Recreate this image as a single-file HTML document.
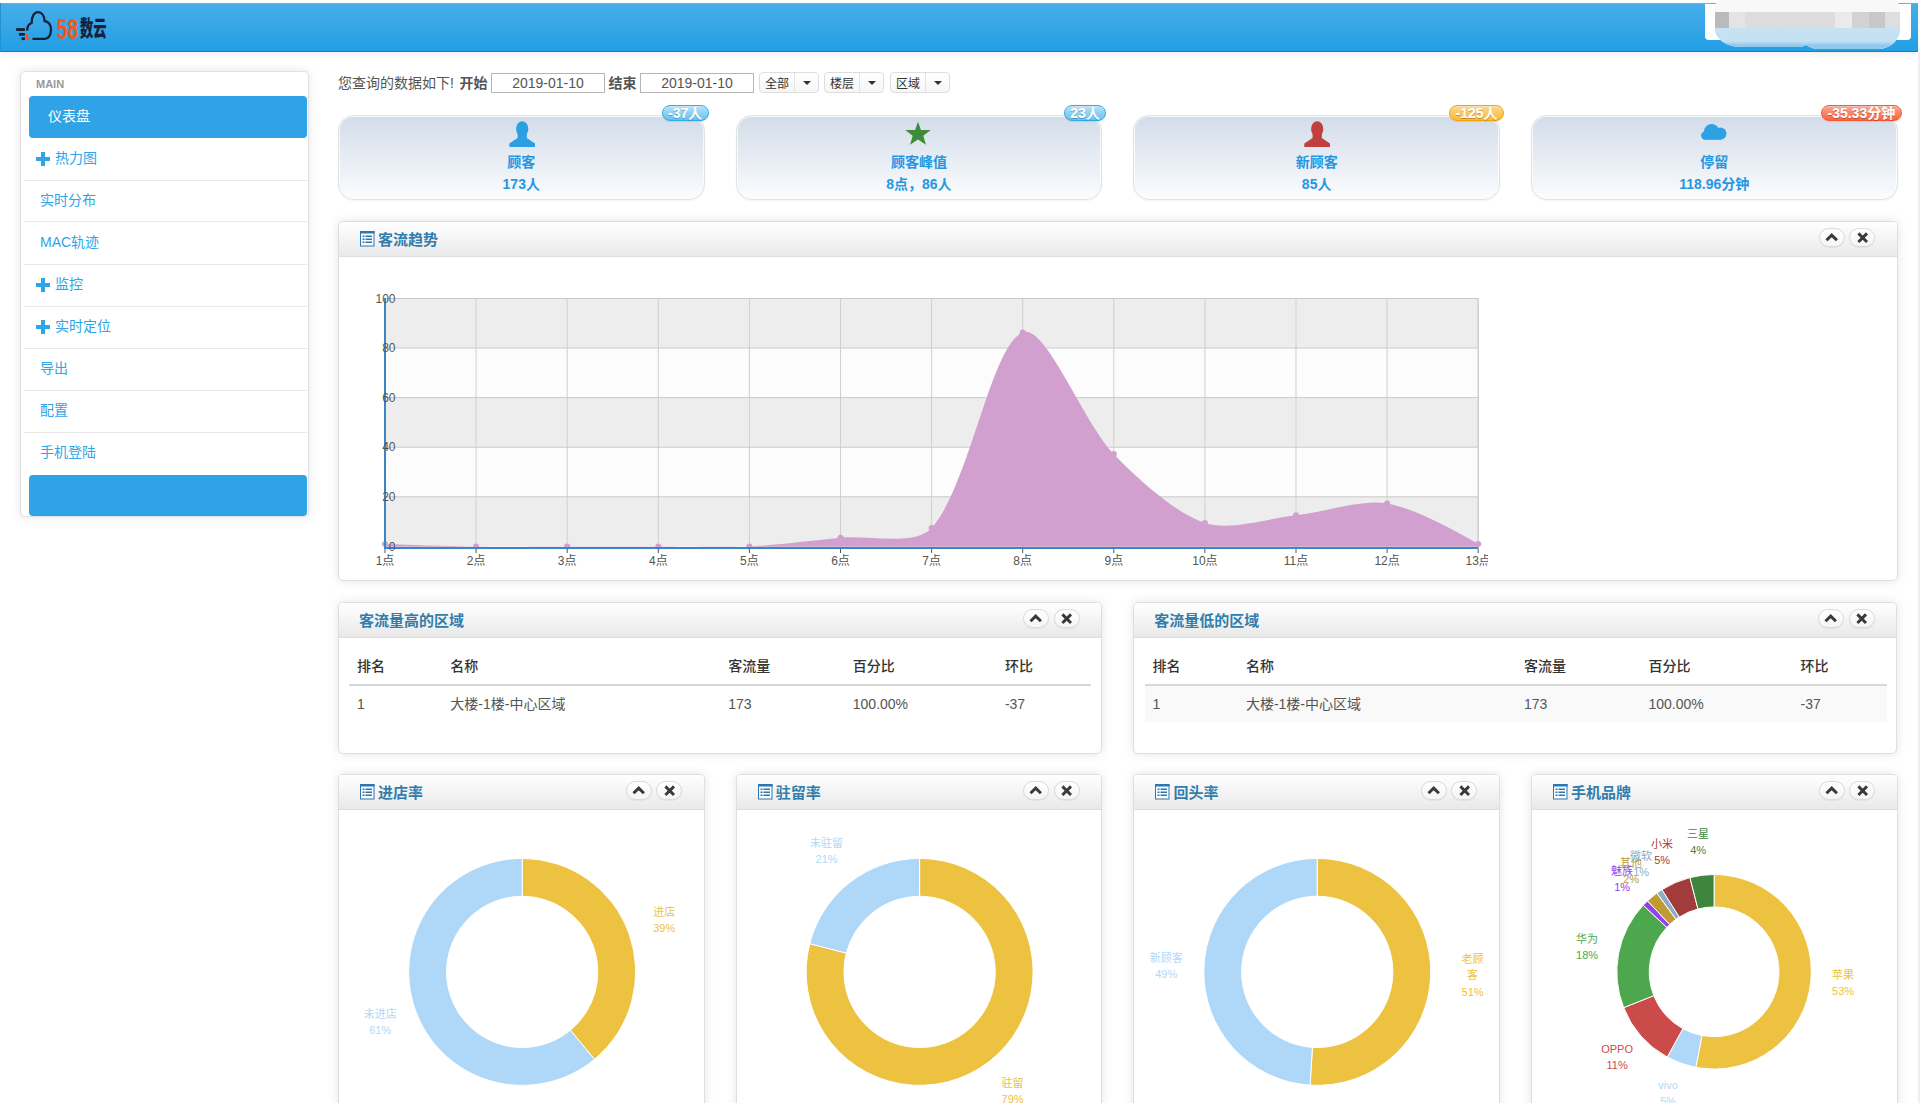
<!DOCTYPE html><html><head><meta charset="utf-8"><title>58数云</title><style>
*{box-sizing:border-box}
html,body{margin:0;padding:0;width:1920px;height:1103px;overflow:hidden;background:#fff}
body{font-family:"Liberation Sans","Noto Sans CJK SC",sans-serif;font-size:14px;color:#555;position:relative}
.a{position:absolute}
.hdr{left:0;top:3px;width:1918px;height:49px;border-top:1px solid #86a8bd;border-bottom:1px solid #0a84cf;
 background:linear-gradient(#46ade9,#36a6e7 50%,#229ee5);box-shadow:0 2px 6px rgba(0,0,0,.08)}
.sb{left:20px;top:71px;width:289px;height:446px;border:1px solid #e0e0e0;border-radius:5px;background:#fff;box-shadow:0 0 8px rgba(180,180,180,.35)}
.sbi{position:absolute;height:41px;line-height:41px;color:#2fa4e7;font-size:14px;white-space:nowrap}
.sep{position:absolute;left:24px;width:283px;height:1px;background:#e8e8e8}
.box{position:absolute;border:1px solid #dedede;border-radius:5px;background:#fff;box-shadow:0 0 10px rgba(189,189,189,.4)}
.bh{position:absolute;left:0;top:0;right:0;height:35px;border-bottom:1px solid #dedede;border-radius:4px 4px 0 0;
 background:linear-gradient(#fff,#e9e9e9)}
.bt{position:absolute;top:0;height:35px;line-height:35px;font-size:15px;font-weight:bold;color:#317eac;white-space:nowrap}
.btn{position:absolute;top:5.5px;width:26px;height:19px;border:1px solid #dadada;border-radius:12px;background:linear-gradient(#fff,#f5f5f5);box-shadow:0 1px 1px rgba(0,0,0,.05)}
.card{position:absolute;top:114.5px;width:366.5px;height:85px;border:1px solid #e2e2e2;border-radius:16px;background:linear-gradient(#d2dce9,#fbfcfe);box-shadow:0 1px 2px rgba(0,0,0,.05),inset 0 0 0 1px rgba(255,255,255,.75)}
.ct{position:absolute;left:0;right:0;text-align:center;font-weight:bold;color:#2597e2;font-size:14px;line-height:22px;white-space:nowrap}
.nt{position:absolute;top:-11px;height:16px;line-height:14px;padding:0 5.3px;border:1px solid #2fabe9;border-radius:10px;color:#fff;white-space:nowrap;
 font-size:14px;font-weight:bold;text-shadow:0 1px rgba(0,0,0,.25);box-shadow:0 1px 1px rgba(0,0,0,.08),inset 0 1px rgba(255,255,255,.3)}
.inp{position:absolute;top:73px;width:114px;height:20px;border:1px solid #b5b5b5;background:#fff;text-align:center;line-height:18px;font-size:14px;color:#555}
.bg{position:absolute;top:72px;width:60px;height:21px;border:1px solid #ddd;border-radius:4px;background:linear-gradient(#fff,#f6f6f6);font-size:12px;color:#333;line-height:19px}
table{border-collapse:collapse;table-layout:fixed;font-size:14px;line-height:20px}
th,td{padding:8px;text-align:left;white-space:nowrap}
th{font-weight:500;color:#333;border-bottom:2px solid #d8d8d8}
td{color:#555}
</style></head><body>

<div class="a hdr"></div>
<div class="a" style="left:0;top:3px;width:1px;height:49px;background:#2191d2"></div>
<svg class="a" style="left:0;top:0" width="120" height="52" viewBox="0 0 120 52">
<path d="M27.3 30.6 C27.0 26.5 29.0 24.0 31.6 23.0 C31.5 16.5 34.2 12.2 38.0 12.2 C41.8 12.2 44.3 16.0 44.6 21.0 C48.5 21.5 51.0 25.0 51.0 29.8 C51.0 35.0 48.5 38.8 45.0 38.8 L32.5 38.8" fill="none" stroke="#16223c" stroke-width="2.3"/>
<g fill="#16223c"><rect x="16.2" y="28.1" width="8.7" height="2.9"/><rect x="18.9" y="33" width="6" height="2.7"/><rect x="21.6" y="37.3" width="3.3" height="2.8"/></g>
<path d="M26 33.9 h2 v3.6 h2.1 v2.6 h-4.1z" fill="#ef5a1c"/>
<text x="56.8" y="39" font-family="Liberation Sans,sans-serif" font-weight="bold" font-size="29" fill="#ef5a1c" transform="translate(56.8 0) scale(0.66 1) translate(-56.8 0)">58</text>
<text x="80" y="36.2" font-family="Noto Sans CJK SC,sans-serif" font-weight="900" font-size="21.5" fill="#16223c" transform="translate(80 0) scale(0.62 1) translate(-80 0)">数云</text>
</svg>
<div class="a" style="left:1705px;top:4px;width:206px;height:36px;background:#fff;border-radius:0 0 4px 4px"></div>
<div class="a" style="left:1715px;top:0;width:95px;height:47px;border-radius:7px 0 12px 26px / 7px 0 8px 18px;background:#f8f8f8;overflow:hidden"><div class="a" style="left:0px;top:12px;width:185px;height:16px;background:linear-gradient(90deg,#bababa 0,#bababa 14px,#e4e4e4 14px,#e4e4e4 30px,#dcdcdc 30px,#dddddd 60px,#dedcdc 120px,#eaeaea 120px,#eaeaea 137px,#d2d2d2 137px,#d2d2d2 154px,#c8c8c8 154px,#c8c8c8 170px,#dedede 170px)"></div><div class="a" style="left:0;top:28px;width:95px;height:24px;background:linear-gradient(#c6e2f3,#c4e0f2 55%,#90c9ee 72%,#90c9ee)"></div></div>
<div class="a" style="left:1804px;top:0;width:96px;height:49px;border-radius:0 8px 22px 14px / 0 8px 20px 9px;background:#f8f8f8;overflow:hidden"><div class="a" style="left:-89px;top:12px;width:185px;height:16px;background:linear-gradient(90deg,#bababa 0,#bababa 14px,#e4e4e4 14px,#e4e4e4 30px,#dcdcdc 30px,#dddddd 60px,#dedcdc 120px,#eaeaea 120px,#eaeaea 137px,#d2d2d2 137px,#d2d2d2 154px,#c8c8c8 154px,#c8c8c8 170px,#dedede 170px)"></div><div class="a" style="left:0;top:28px;width:96px;height:24px;background:linear-gradient(#c6e2f3,#c4e0f2 55%,#90c9ee 72%,#90c9ee)"></div></div>
<div class="a" style="left:1918px;top:52px;width:2px;height:1051px;background:#efefef"></div>
<div class="a sb"></div>
<div class="a" style="left:36px;top:77px;font-size:11px;font-weight:bold;color:#999;line-height:14px">MAIN</div>
<div class="a" style="left:29px;top:96px;width:278px;height:42px;border-radius:4px;background:#2fa3e6"></div>
<div class="sbi" style="top:96px;left:48px;color:#fff">仪表盘</div>
<div class="sep" style="top:180px"></div>
<div class="sep" style="top:221px"></div>
<div class="sep" style="top:264px"></div>
<div class="sep" style="top:306px"></div>
<div class="sep" style="top:348px"></div>
<div class="sep" style="top:390px"></div>
<div class="sep" style="top:432px"></div>
<svg class="a" style="left:36px;top:152px" width="14" height="14" viewBox="0 0 14 14"><path d="M5 0h4v5h5v4H9v5H5V9H0V5h5z" fill="#2fa4e7"/></svg>
<div class="sbi" style="top:138px;left:55px">热力图</div>
<div class="sbi" style="top:180px;left:40px">实时分布</div>
<div class="sbi" style="top:222px;left:40px">MAC轨迹</div>
<svg class="a" style="left:36px;top:278px" width="14" height="14" viewBox="0 0 14 14"><path d="M5 0h4v5h5v4H9v5H5V9H0V5h5z" fill="#2fa4e7"/></svg>
<div class="sbi" style="top:264px;left:55px">监控</div>
<svg class="a" style="left:36px;top:320px" width="14" height="14" viewBox="0 0 14 14"><path d="M5 0h4v5h5v4H9v5H5V9H0V5h5z" fill="#2fa4e7"/></svg>
<div class="sbi" style="top:306px;left:55px">实时定位</div>
<div class="sbi" style="top:348px;left:40px">导出</div>
<div class="sbi" style="top:390px;left:40px">配置</div>
<div class="sbi" style="top:432px;left:40px">手机登陆</div>
<div class="a" style="left:29px;top:475px;width:278px;height:41px;border-radius:4px;background:#2fa3e6"></div>
<div class="a" style="left:338px;top:73px;line-height:20px;white-space:nowrap">您查询的数据如下!</div>
<div class="a" style="left:459.5px;top:73px;line-height:20px;font-weight:bold">开始</div>
<div class="inp" style="left:491px">2019-01-10</div>
<div class="a" style="left:608.5px;top:73px;line-height:20px;font-weight:bold">结束</div>
<div class="inp" style="left:640px">2019-01-10</div>
<div class="bg" style="left:759px"><span class="a" style="left:5px;top:2px">全部</span><div class="a" style="left:34px;top:0;width:1px;height:19px;background:#e4e4e4"></div><div class="a" style="left:43px;top:8px;width:0;height:0;border-left:4px solid transparent;border-right:4px solid transparent;border-top:4px solid #333"></div></div>
<div class="bg" style="left:824px"><span class="a" style="left:5px;top:2px">楼层</span><div class="a" style="left:34px;top:0;width:1px;height:19px;background:#e4e4e4"></div><div class="a" style="left:43px;top:8px;width:0;height:0;border-left:4px solid transparent;border-right:4px solid transparent;border-top:4px solid #333"></div></div>
<div class="bg" style="left:890px"><span class="a" style="left:5px;top:2px">区域</span><div class="a" style="left:34px;top:0;width:1px;height:19px;background:#e4e4e4"></div><div class="a" style="left:43px;top:8px;width:0;height:0;border-left:4px solid transparent;border-right:4px solid transparent;border-top:4px solid #333"></div></div>
<div class="card" style="left:338.0px">
<svg class="a" style="left:169.55px;top:5px" width="27" height="27" viewBox="0 0 27 27"><ellipse cx="13.2" cy="7.9" rx="6.1" ry="7.6" fill="#2a9fe3"/><path d="M8.6 12 H17.8 V16.9 L26 22.4 V26 H0.3 V22.4 L8.6 16.9z" fill="#2a9fe3"/></svg>
<div class="ct" style="top:35px">顾客</div><div class="ct" style="top:57px">173人</div>
<div class="nt" style="right:-5px;border-color:#2fabe9;background:linear-gradient(#b7e2f8,#67c2ef)">-37人</div>
</div>
<div class="card" style="left:735.7px">
<svg class="a" style="left:167.75px;top:5.5px" width="28" height="28" viewBox="0 0 28 28"><path d="M14 0.8 L16.9 8.9 L26.7 8.9 L19.3 14.8 L21.9 23.7 L14 18.6 L6.1 23.7 L8.7 14.8 L1.3 8.9 L11.1 8.9z" fill="#3d8c3a"/></svg>
<div class="ct" style="top:35px">顾客峰值</div><div class="ct" style="top:57px">8点，86人</div>
<div class="nt" style="right:-5px;border-color:#2fabe9;background:linear-gradient(#b7e2f8,#67c2ef)">23人</div>
</div>
<div class="card" style="left:1133.4px">
<svg class="a" style="left:169.55px;top:5px" width="27" height="27" viewBox="0 0 27 27"><ellipse cx="13.2" cy="7.9" rx="6.1" ry="7.6" fill="#c0403f"/><path d="M8.6 12 H17.8 V16.9 L26 22.4 V26 H0.3 V22.4 L8.6 16.9z" fill="#c0403f"/></svg>
<div class="ct" style="top:35px">新顾客</div><div class="ct" style="top:57px">85人</div>
<div class="nt" style="right:-5px;border-color:#f4a506;background:linear-gradient(#fcd98f,#fab73a)">-125人</div>
</div>
<div class="card" style="left:1531.0px">
<svg class="a" style="left:169.25px;top:8.5px" width="26" height="17" viewBox="0 0 26 17"><g fill="#2ea0e4"><circle cx="4.2" cy="11.6" r="4.2"/><circle cx="10.6" cy="7.6" r="7.6"/><circle cx="19.3" cy="9.6" r="6.2"/><rect x="4.2" y="9" width="15.1" height="6.8"/></g></svg>
<div class="ct" style="top:35px">停留</div><div class="ct" style="top:57px">118.96分钟</div>
<div class="nt" style="right:-5px;border-color:#fa5833;background:linear-gradient(#fca58f,#f9643f)">-35.33分钟</div>
</div>
<div class="box" style="left:338.0px;top:221.0px;width:1559.5px;height:360.0px"><div class="bh"><svg class="a" style="left:21px;top:9px" width="15" height="16" viewBox="0 0 15 16"><rect x="0.5" y="0.5" width="13.5" height="14.5" fill="#fff" stroke="#2b77b3"/><rect x="0" y="0" width="14.5" height="2.5" fill="#2b77b3"/><g fill="#2b77b3"><rect x="2.5" y="4.5" width="2" height="1.5"/><rect x="5.5" y="4.5" width="6.5" height="1.5"/><rect x="2.5" y="7.5" width="2" height="1.5"/><rect x="5.5" y="7.5" width="6.5" height="1.5"/><rect x="2.5" y="10.5" width="2" height="1.5"/><rect x="5.5" y="10.5" width="6.5" height="1.5"/></g></svg><div class="bt" style="left:39px">客流趋势</div><div class="btn" style="right:52px"><svg class="a" style="left:5px;top:3.5px" width="14" height="11" viewBox="0 0 14 11"><path d="M1.5 8.3 L6.7 3.2 L11.9 8.3" fill="none" stroke="#3a3a3a" stroke-width="3"/></svg></div><div class="btn" style="right:21.5px"><svg class="a" style="left:6.5px;top:3px" width="12" height="12" viewBox="0 0 12 12"><path d="M1.4 1.4 L10 10 M10 1.4 L1.4 10" fill="none" stroke="#3a3a3a" stroke-width="2.9"/></svg></div></div></div>
<svg class="a" style="left:0;top:0" width="1920" height="600" viewBox="0 0 1920 600">
<rect x="385" y="298.5" width="1093.2" height="49.5" fill="#ededed"/>
<rect x="385" y="348.0" width="1093.2" height="49.6" fill="#fcfcfc"/>
<rect x="385" y="397.6" width="1093.2" height="49.6" fill="#ededed"/>
<rect x="385" y="447.2" width="1093.2" height="49.6" fill="#fcfcfc"/>
<rect x="385" y="496.8" width="1093.2" height="49.7" fill="#ededed"/>
<line x1="385.0" y1="298.5" x2="385.0" y2="547" stroke="#cfcfcf" stroke-width="1"/>
<line x1="476.1" y1="298.5" x2="476.1" y2="547" stroke="#cfcfcf" stroke-width="1"/>
<line x1="567.2" y1="298.5" x2="567.2" y2="547" stroke="#cfcfcf" stroke-width="1"/>
<line x1="658.3" y1="298.5" x2="658.3" y2="547" stroke="#cfcfcf" stroke-width="1"/>
<line x1="749.4" y1="298.5" x2="749.4" y2="547" stroke="#cfcfcf" stroke-width="1"/>
<line x1="840.5" y1="298.5" x2="840.5" y2="547" stroke="#cfcfcf" stroke-width="1"/>
<line x1="931.6" y1="298.5" x2="931.6" y2="547" stroke="#cfcfcf" stroke-width="1"/>
<line x1="1022.7" y1="298.5" x2="1022.7" y2="547" stroke="#cfcfcf" stroke-width="1"/>
<line x1="1113.8" y1="298.5" x2="1113.8" y2="547" stroke="#cfcfcf" stroke-width="1"/>
<line x1="1204.9" y1="298.5" x2="1204.9" y2="547" stroke="#cfcfcf" stroke-width="1"/>
<line x1="1296.0" y1="298.5" x2="1296.0" y2="547" stroke="#cfcfcf" stroke-width="1"/>
<line x1="1387.1" y1="298.5" x2="1387.1" y2="547" stroke="#cfcfcf" stroke-width="1"/>
<line x1="1478.2" y1="298.5" x2="1478.2" y2="547" stroke="#cfcfcf" stroke-width="1"/>
<line x1="385" y1="298.5" x2="1478.2" y2="298.5" stroke="#cacaca" stroke-width="1"/>
<line x1="385" y1="348.0" x2="1478.2" y2="348.0" stroke="#cacaca" stroke-width="1"/>
<line x1="385" y1="397.6" x2="1478.2" y2="397.6" stroke="#cacaca" stroke-width="1"/>
<line x1="385" y1="447.2" x2="1478.2" y2="447.2" stroke="#cacaca" stroke-width="1"/>
<line x1="385" y1="496.8" x2="1478.2" y2="496.8" stroke="#cacaca" stroke-width="1"/>
<line x1="1478.2" y1="298" x2="1478.2" y2="547" stroke="#cacaca"/>
<path d="M385.0 543.9 Q448.8 546.1 476.1 546.5 C503.4 546.9 539.9 546.5 567.2 546.5 C594.5 546.5 631.0 546.5 658.3 546.5 C685.6 546.5 722.1 547.7 749.4 546.4 C776.8 545.1 813.2 540.5 840.5 537.8 C867.8 535.1 915.3 546.5 931.6 528.1 C970.0 484.8 990.6 345.4 1022.7 332.4 C1045.3 323.2 1082.6 421.4 1113.8 454.0 C1137.3 478.5 1174.5 512.8 1204.9 523.0 C1229.2 531.2 1268.7 518.2 1296.0 515.3 C1323.4 512.4 1360.9 499.3 1387.1 503.4 Q1415.5 507.9 1478.2 543.9 L1478.2 546.8 L385.0 546.8 Z" fill="#d2a0ce"/>
<circle cx="385.0" cy="543.9" r="3" fill="#d2a0ce"/>
<circle cx="476.1" cy="546.5" r="3" fill="#d2a0ce"/>
<circle cx="567.2" cy="546.5" r="3" fill="#d2a0ce"/>
<circle cx="658.3" cy="546.5" r="3" fill="#d2a0ce"/>
<circle cx="749.4" cy="546.4" r="3" fill="#d2a0ce"/>
<circle cx="840.5" cy="537.8" r="3" fill="#d2a0ce"/>
<circle cx="931.6" cy="528.1" r="3" fill="#d2a0ce"/>
<circle cx="1022.7" cy="332.4" r="3" fill="#d2a0ce"/>
<circle cx="1113.8" cy="454.0" r="3" fill="#d2a0ce"/>
<circle cx="1204.9" cy="523.0" r="3" fill="#d2a0ce"/>
<circle cx="1296.0" cy="515.3" r="3" fill="#d2a0ce"/>
<circle cx="1387.1" cy="503.4" r="3" fill="#d2a0ce"/>
<circle cx="1478.2" cy="543.9" r="3" fill="#d2a0ce"/>
<line x1="384" y1="548" x2="1478.5" y2="548" stroke="#3a87c8" stroke-width="2"/>
<line x1="385" y1="298" x2="385" y2="549" stroke="#3a87c8" stroke-width="2"/>
<line x1="385.0" y1="549" x2="385.0" y2="553" stroke="#555" stroke-width="1"/>
<line x1="476.1" y1="549" x2="476.1" y2="553" stroke="#555" stroke-width="1"/>
<line x1="567.2" y1="549" x2="567.2" y2="553" stroke="#555" stroke-width="1"/>
<line x1="658.3" y1="549" x2="658.3" y2="553" stroke="#555" stroke-width="1"/>
<line x1="749.4" y1="549" x2="749.4" y2="553" stroke="#555" stroke-width="1"/>
<line x1="840.5" y1="549" x2="840.5" y2="553" stroke="#555" stroke-width="1"/>
<line x1="931.6" y1="549" x2="931.6" y2="553" stroke="#555" stroke-width="1"/>
<line x1="1022.7" y1="549" x2="1022.7" y2="553" stroke="#555" stroke-width="1"/>
<line x1="1113.8" y1="549" x2="1113.8" y2="553" stroke="#555" stroke-width="1"/>
<line x1="1204.9" y1="549" x2="1204.9" y2="553" stroke="#555" stroke-width="1"/>
<line x1="1296.0" y1="549" x2="1296.0" y2="553" stroke="#555" stroke-width="1"/>
<line x1="1387.1" y1="549" x2="1387.1" y2="553" stroke="#555" stroke-width="1"/>
<line x1="1478.2" y1="549" x2="1478.2" y2="553" stroke="#555" stroke-width="1"/>
<clipPath id="cc"><rect x="0" y="0" width="1488" height="600"/></clipPath><g clip-path="url(#cc)" font-family="Liberation Sans,Noto Sans CJK SC,sans-serif" font-size="12" fill="#545454">
<text x="395.5" y="302.5" text-anchor="end">100</text>
<text x="395.5" y="352.1" text-anchor="end">80</text>
<text x="395.5" y="401.7" text-anchor="end">60</text>
<text x="395.5" y="451.3" text-anchor="end">40</text>
<text x="395.5" y="500.9" text-anchor="end">20</text>
<text x="395.5" y="550.5" text-anchor="end">0</text>
<text x="385.0" y="565" text-anchor="middle">1点</text>
<text x="476.1" y="565" text-anchor="middle">2点</text>
<text x="567.2" y="565" text-anchor="middle">3点</text>
<text x="658.3" y="565" text-anchor="middle">4点</text>
<text x="749.4" y="565" text-anchor="middle">5点</text>
<text x="840.5" y="565" text-anchor="middle">6点</text>
<text x="931.6" y="565" text-anchor="middle">7点</text>
<text x="1022.7" y="565" text-anchor="middle">8点</text>
<text x="1113.8" y="565" text-anchor="middle">9点</text>
<text x="1204.9" y="565" text-anchor="middle">10点</text>
<text x="1296.0" y="565" text-anchor="middle">11点</text>
<text x="1387.1" y="565" text-anchor="middle">12点</text>
<text x="1478.2" y="565" text-anchor="middle">13点</text>
</g></svg>
<div class="box" style="left:338.0px;top:602.0px;width:764.2px;height:152.0px"><div class="bh"><div class="bt" style="left:20px">客流量高的区域</div><div class="btn" style="right:52px"><svg class="a" style="left:5px;top:3.5px" width="14" height="11" viewBox="0 0 14 11"><path d="M1.5 8.3 L6.7 3.2 L11.9 8.3" fill="none" stroke="#3a3a3a" stroke-width="3"/></svg></div><div class="btn" style="right:21.5px"><svg class="a" style="left:6.5px;top:3px" width="12" height="12" viewBox="0 0 12 12"><path d="M1.4 1.4 L10 10 M10 1.4 L1.4 10" fill="none" stroke="#3a3a3a" stroke-width="2.9"/></svg></div></div></div>
<div class="box" style="left:1133.3px;top:602.0px;width:764.2px;height:152.0px"><div class="bh"><div class="bt" style="left:20px">客流量低的区域</div><div class="btn" style="right:52px"><svg class="a" style="left:5px;top:3.5px" width="14" height="11" viewBox="0 0 14 11"><path d="M1.5 8.3 L6.7 3.2 L11.9 8.3" fill="none" stroke="#3a3a3a" stroke-width="3"/></svg></div><div class="btn" style="right:21.5px"><svg class="a" style="left:6.5px;top:3px" width="12" height="12" viewBox="0 0 12 12"><path d="M1.4 1.4 L10 10 M10 1.4 L1.4 10" fill="none" stroke="#3a3a3a" stroke-width="2.9"/></svg></div></div></div>
<table class="a" style="left:349.0px;top:647.5px;width:742px"><colgroup><col style="width:93.3px"><col style="width:278px"><col style="width:124.5px"><col style="width:152.1px"><col style="width:94.1px"></colgroup><tr><th>排名</th><th>名称</th><th>客流量</th><th>百分比</th><th>环比</th></tr><tr><td>1</td><td>大楼-1楼-中心区域</td><td>173</td><td>100.00%</td><td>-37</td></tr></table>
<table class="a" style="left:1144.6px;top:647.5px;width:742px"><colgroup><col style="width:93.3px"><col style="width:278px"><col style="width:124.5px"><col style="width:152.1px"><col style="width:94.1px"></colgroup><tr><th>排名</th><th>名称</th><th>客流量</th><th>百分比</th><th>环比</th></tr><tr style="background:#f9f9f9"><td>1</td><td>大楼-1楼-中心区域</td><td>173</td><td>100.00%</td><td>-37</td></tr></table>
<div class="box" style="left:338.0px;top:774.0px;width:366.5px;height:340.0px"><div class="bh"><svg class="a" style="left:21px;top:9px" width="15" height="16" viewBox="0 0 15 16"><rect x="0.5" y="0.5" width="13.5" height="14.5" fill="#fff" stroke="#2b77b3"/><rect x="0" y="0" width="14.5" height="2.5" fill="#2b77b3"/><g fill="#2b77b3"><rect x="2.5" y="4.5" width="2" height="1.5"/><rect x="5.5" y="4.5" width="6.5" height="1.5"/><rect x="2.5" y="7.5" width="2" height="1.5"/><rect x="5.5" y="7.5" width="6.5" height="1.5"/><rect x="2.5" y="10.5" width="2" height="1.5"/><rect x="5.5" y="10.5" width="6.5" height="1.5"/></g></svg><div class="bt" style="left:39px">进店率</div><div class="btn" style="right:52px"><svg class="a" style="left:5px;top:3.5px" width="14" height="11" viewBox="0 0 14 11"><path d="M1.5 8.3 L6.7 3.2 L11.9 8.3" fill="none" stroke="#3a3a3a" stroke-width="3"/></svg></div><div class="btn" style="right:21.5px"><svg class="a" style="left:6.5px;top:3px" width="12" height="12" viewBox="0 0 12 12"><path d="M1.4 1.4 L10 10 M10 1.4 L1.4 10" fill="none" stroke="#3a3a3a" stroke-width="2.9"/></svg></div></div></div>
<div class="box" style="left:735.7px;top:774.0px;width:366.5px;height:340.0px"><div class="bh"><svg class="a" style="left:21px;top:9px" width="15" height="16" viewBox="0 0 15 16"><rect x="0.5" y="0.5" width="13.5" height="14.5" fill="#fff" stroke="#2b77b3"/><rect x="0" y="0" width="14.5" height="2.5" fill="#2b77b3"/><g fill="#2b77b3"><rect x="2.5" y="4.5" width="2" height="1.5"/><rect x="5.5" y="4.5" width="6.5" height="1.5"/><rect x="2.5" y="7.5" width="2" height="1.5"/><rect x="5.5" y="7.5" width="6.5" height="1.5"/><rect x="2.5" y="10.5" width="2" height="1.5"/><rect x="5.5" y="10.5" width="6.5" height="1.5"/></g></svg><div class="bt" style="left:39px">驻留率</div><div class="btn" style="right:52px"><svg class="a" style="left:5px;top:3.5px" width="14" height="11" viewBox="0 0 14 11"><path d="M1.5 8.3 L6.7 3.2 L11.9 8.3" fill="none" stroke="#3a3a3a" stroke-width="3"/></svg></div><div class="btn" style="right:21.5px"><svg class="a" style="left:6.5px;top:3px" width="12" height="12" viewBox="0 0 12 12"><path d="M1.4 1.4 L10 10 M10 1.4 L1.4 10" fill="none" stroke="#3a3a3a" stroke-width="2.9"/></svg></div></div></div>
<div class="box" style="left:1133.4px;top:774.0px;width:366.5px;height:340.0px"><div class="bh"><svg class="a" style="left:21px;top:9px" width="15" height="16" viewBox="0 0 15 16"><rect x="0.5" y="0.5" width="13.5" height="14.5" fill="#fff" stroke="#2b77b3"/><rect x="0" y="0" width="14.5" height="2.5" fill="#2b77b3"/><g fill="#2b77b3"><rect x="2.5" y="4.5" width="2" height="1.5"/><rect x="5.5" y="4.5" width="6.5" height="1.5"/><rect x="2.5" y="7.5" width="2" height="1.5"/><rect x="5.5" y="7.5" width="6.5" height="1.5"/><rect x="2.5" y="10.5" width="2" height="1.5"/><rect x="5.5" y="10.5" width="6.5" height="1.5"/></g></svg><div class="bt" style="left:39px">回头率</div><div class="btn" style="right:52px"><svg class="a" style="left:5px;top:3.5px" width="14" height="11" viewBox="0 0 14 11"><path d="M1.5 8.3 L6.7 3.2 L11.9 8.3" fill="none" stroke="#3a3a3a" stroke-width="3"/></svg></div><div class="btn" style="right:21.5px"><svg class="a" style="left:6.5px;top:3px" width="12" height="12" viewBox="0 0 12 12"><path d="M1.4 1.4 L10 10 M10 1.4 L1.4 10" fill="none" stroke="#3a3a3a" stroke-width="2.9"/></svg></div></div></div>
<div class="box" style="left:1531.0px;top:774.0px;width:366.5px;height:340.0px"><div class="bh"><svg class="a" style="left:21px;top:9px" width="15" height="16" viewBox="0 0 15 16"><rect x="0.5" y="0.5" width="13.5" height="14.5" fill="#fff" stroke="#2b77b3"/><rect x="0" y="0" width="14.5" height="2.5" fill="#2b77b3"/><g fill="#2b77b3"><rect x="2.5" y="4.5" width="2" height="1.5"/><rect x="5.5" y="4.5" width="6.5" height="1.5"/><rect x="2.5" y="7.5" width="2" height="1.5"/><rect x="5.5" y="7.5" width="6.5" height="1.5"/><rect x="2.5" y="10.5" width="2" height="1.5"/><rect x="5.5" y="10.5" width="6.5" height="1.5"/></g></svg><div class="bt" style="left:39px">手机品牌</div><div class="btn" style="right:52px"><svg class="a" style="left:5px;top:3.5px" width="14" height="11" viewBox="0 0 14 11"><path d="M1.5 8.3 L6.7 3.2 L11.9 8.3" fill="none" stroke="#3a3a3a" stroke-width="3"/></svg></div><div class="btn" style="right:21.5px"><svg class="a" style="left:6.5px;top:3px" width="12" height="12" viewBox="0 0 12 12"><path d="M1.4 1.4 L10 10 M10 1.4 L1.4 10" fill="none" stroke="#3a3a3a" stroke-width="2.9"/></svg></div></div></div>
<svg class="a" style="left:0;top:0" width="1920" height="1103" viewBox="0 0 1920 1103" font-family="Liberation Sans,Noto Sans CJK SC,sans-serif" font-size="11">
<path d="M522.20 858.42 A113.48 113.48 0 0 1 594.53 1059.33 L570.42 1030.19 A75.65 75.65 0 0 0 522.20 896.25 Z" fill="#edc240" stroke="#fff" stroke-width="1" stroke-linejoin="round"/>
<path d="M594.53 1059.33 A113.48 113.48 0 1 1 522.20 858.42 L522.20 896.25 A75.65 75.65 0 1 0 570.42 1030.19 Z" fill="#afd8f8" stroke="#fff" stroke-width="1" stroke-linejoin="round"/>
<text x="664.2" y="915.8" text-anchor="middle" fill="#edc240">进店</text>
<text x="664.2" y="932.0" text-anchor="middle" fill="#edc240">39%</text>
<text x="380.2" y="1017.8" text-anchor="middle" fill="#afd8f8">未进店</text>
<text x="380.2" y="1034.0" text-anchor="middle" fill="#afd8f8">61%</text>
<path d="M919.60 858.42 A113.48 113.48 0 1 1 809.69 943.68 L846.33 953.09 A75.65 75.65 0 1 0 919.60 896.25 Z" fill="#edc240" stroke="#fff" stroke-width="1" stroke-linejoin="round"/>
<path d="M809.69 943.68 A113.48 113.48 0 0 1 919.60 858.42 L919.60 896.25 A75.65 75.65 0 0 0 846.33 953.09 Z" fill="#afd8f8" stroke="#fff" stroke-width="1" stroke-linejoin="round"/>
<text x="1012.6" y="1086.8" text-anchor="middle" fill="#edc240">驻留</text>
<text x="1012.6" y="1103.0" text-anchor="middle" fill="#edc240">79%</text>
<text x="826.6" y="846.8" text-anchor="middle" fill="#afd8f8">未驻留</text>
<text x="826.6" y="863.0" text-anchor="middle" fill="#afd8f8">21%</text>
<path d="M1317.20 858.42 A113.48 113.48 0 1 1 1310.07 1085.15 L1312.45 1047.40 A75.65 75.65 0 1 0 1317.20 896.25 Z" fill="#edc240" stroke="#fff" stroke-width="1" stroke-linejoin="round"/>
<path d="M1310.07 1085.15 A113.48 113.48 0 0 1 1317.20 858.42 L1317.20 896.25 A75.65 75.65 0 0 0 1312.45 1047.40 Z" fill="#afd8f8" stroke="#fff" stroke-width="1" stroke-linejoin="round"/>
<text x="1472.6" y="963.2" text-anchor="middle" fill="#edc240">老顾</text>
<text x="1472.6" y="979.4" text-anchor="middle" fill="#edc240">客</text>
<text x="1472.6" y="995.6" text-anchor="middle" fill="#edc240">51%</text>
<text x="1166.2" y="961.8" text-anchor="middle" fill="#afd8f8">新顾客</text>
<text x="1166.2" y="978.0" text-anchor="middle" fill="#afd8f8">49%</text>
<path d="M1714.10 874.52 A97.27 97.27 0 1 1 1695.87 1067.35 L1701.95 1035.50 A64.85 64.85 0 1 0 1714.10 906.95 Z" fill="#edc240" stroke="#fff" stroke-width="1" stroke-linejoin="round"/>
<path d="M1695.87 1067.35 A97.27 97.27 0 0 1 1667.24 1057.04 L1682.86 1028.63 A64.85 64.85 0 0 0 1701.95 1035.50 Z" fill="#afd8f8" stroke="#fff" stroke-width="1" stroke-linejoin="round"/>
<path d="M1667.24 1057.04 A97.27 97.27 0 0 1 1623.66 1007.61 L1653.80 995.67 A64.85 64.85 0 0 0 1682.86 1028.63 Z" fill="#cb4b4b" stroke="#fff" stroke-width="1" stroke-linejoin="round"/>
<path d="M1623.66 1007.61 A97.27 97.27 0 0 1 1643.19 905.21 L1666.83 927.41 A64.85 64.85 0 0 0 1653.80 995.67 Z" fill="#4da74d" stroke="#fff" stroke-width="1" stroke-linejoin="round"/>
<path d="M1643.19 905.21 A97.27 97.27 0 0 1 1647.51 900.89 L1669.71 924.53 A64.85 64.85 0 0 0 1666.83 927.41 Z" fill="#9440ed" stroke="#fff" stroke-width="1" stroke-linejoin="round"/>
<path d="M1647.51 900.89 A97.27 97.27 0 0 1 1656.92 893.10 L1675.98 919.34 A64.85 64.85 0 0 0 1669.71 924.53 Z" fill="#be9b33" stroke="#fff" stroke-width="1" stroke-linejoin="round"/>
<path d="M1656.92 893.10 A97.27 97.27 0 0 1 1661.98 889.67 L1679.35 917.05 A64.85 64.85 0 0 0 1675.98 919.34 Z" fill="#8cadc6" stroke="#fff" stroke-width="1" stroke-linejoin="round"/>
<path d="M1661.98 889.67 A97.27 97.27 0 0 1 1689.91 877.58 L1697.97 908.99 A64.85 64.85 0 0 0 1679.35 917.05 Z" fill="#a23c3c" stroke="#fff" stroke-width="1" stroke-linejoin="round"/>
<path d="M1689.91 877.58 A97.27 97.27 0 0 1 1714.10 874.52 L1714.10 906.95 A64.85 64.85 0 0 0 1697.97 908.99 Z" fill="#3e863e" stroke="#fff" stroke-width="1" stroke-linejoin="round"/>
<text x="1843.1" y="978.7" text-anchor="middle" fill="#edc240">苹果</text>
<text x="1843.1" y="994.9" text-anchor="middle" fill="#edc240">53%</text>
<text x="1668.1" y="1088.7" text-anchor="middle" fill="#afd8f8">vivo</text>
<text x="1668.1" y="1104.9" text-anchor="middle" fill="#afd8f8">5%</text>
<text x="1617.1" y="1052.7" text-anchor="middle" fill="#cb4b4b">OPPO</text>
<text x="1617.1" y="1068.9" text-anchor="middle" fill="#cb4b4b">11%</text>
<text x="1587.1" y="942.7" text-anchor="middle" fill="#4da74d">华为</text>
<text x="1587.1" y="958.9" text-anchor="middle" fill="#4da74d">18%</text>
<text x="1622.1" y="874.7" text-anchor="middle" fill="#9440ed">魅族</text>
<text x="1622.1" y="890.9" text-anchor="middle" fill="#9440ed">1%</text>
<text x="1631.1" y="866.7" text-anchor="middle" fill="#be9b33">其他</text>
<text x="1631.1" y="882.9" text-anchor="middle" fill="#be9b33">2%</text>
<text x="1641.1" y="859.7" text-anchor="middle" fill="#8cadc6">微软</text>
<text x="1641.1" y="875.9" text-anchor="middle" fill="#8cadc6">1%</text>
<text x="1662.1" y="847.7" text-anchor="middle" fill="#a23c3c">小米</text>
<text x="1662.1" y="863.9" text-anchor="middle" fill="#a23c3c">5%</text>
<text x="1698.1" y="837.7" text-anchor="middle" fill="#3e863e">三星</text>
<text x="1698.1" y="853.9" text-anchor="middle" fill="#3e863e">4%</text>
</svg>
</body></html>
